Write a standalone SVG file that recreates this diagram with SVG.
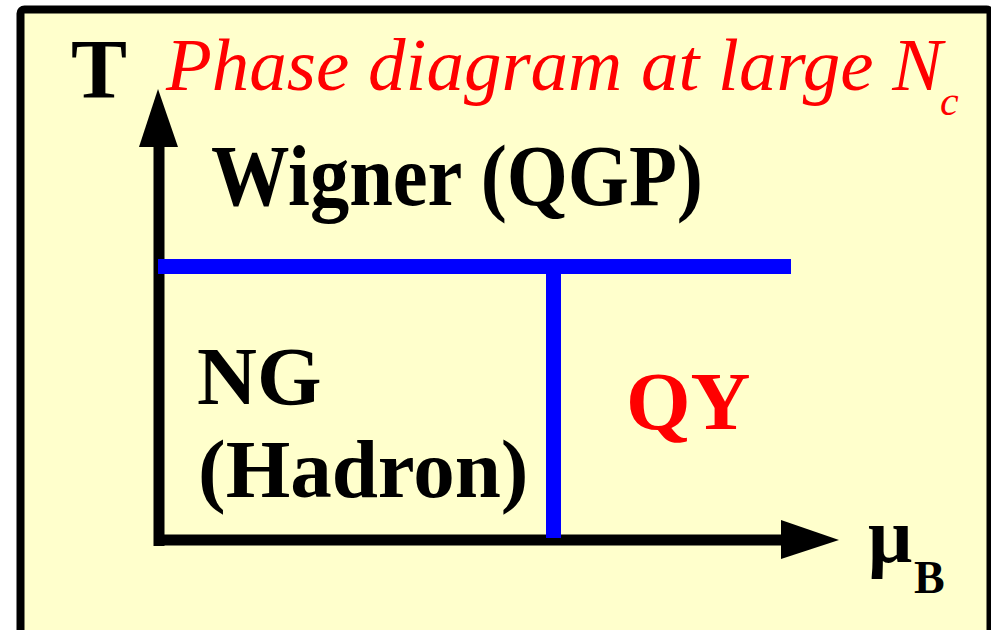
<svg xmlns="http://www.w3.org/2000/svg" width="991" height="630" viewBox="0 0 991 630">
  <style>
    text { font-family: "Liberation Serif", "Times New Roman", Times, "DejaVu Serif", serif; }
    .bold { font-weight: bold; fill: #000; }
    .red { fill: #FF0000; }
    .ital { font-style: italic; fill: #FF0000; }
    .axis { stroke: #000; stroke-width: 11; fill: none; }
    .phase { stroke: #0000FF; stroke-width: 15; fill: none; }
  </style>
  <rect x="0" y="0" width="991" height="630" fill="#FFFFFF"/>
  <g id="frame">
    <rect x="20.5" y="9.5" width="970" height="650" rx="4" fill="#FFFFCC" stroke="#000" stroke-width="8"/>
  </g>
  <g id="connectors">
    <line class="axis" x1="159" y1="140" x2="159" y2="546"/>
    <polygon points="158,89 139,147 178,147" fill="#000"/>
    <line class="axis" x1="154" y1="540" x2="790" y2="540"/>
    <polygon points="839,540 781,520 781,559" fill="#000"/>
    <line class="phase" x1="158" y1="266.5" x2="791" y2="266.5"/>
    <line class="phase" x1="553.5" y1="266" x2="553.5" y2="538"/>
  </g>
  <g id="label-T">
    <text class="bold" x="71" y="98" font-size="84" font-family="Liberation Serif, serif">T</text>
  </g>
  <g id="title">
    <text class="ital" x="166" y="90" font-size="75" font-family="Liberation Serif, serif">Phase diagram at large N</text>
    <text class="ital" x="940" y="115" font-size="42" font-family="Liberation Serif, serif">c</text>
  </g>
  <g id="wigner">
    <text class="bold" x="211" y="205" font-size="86" textLength="492" lengthAdjust="spacingAndGlyphs" font-family="Liberation Serif, serif">Wigner (QGP)</text>
  </g>
  <g id="ng">
    <text class="bold" x="197" y="404" font-size="83" font-family="Liberation Serif, serif">NG</text>
    <text class="bold" x="198" y="497" font-size="83" font-family="Liberation Serif, serif">(Hadron)</text>
  </g>
  <g id="qy">
    <text class="bold red" x="626" y="429" font-size="83" font-family="Liberation Serif, serif">QY</text>
  </g>
  <g id="label-muB">
    <text class="bold" x="868" y="562" font-size="78" font-family="Liberation Serif, serif">μ</text>
    <text class="bold" x="914" y="593" font-size="46" font-family="Liberation Serif, serif">B</text>
  </g>
</svg>
